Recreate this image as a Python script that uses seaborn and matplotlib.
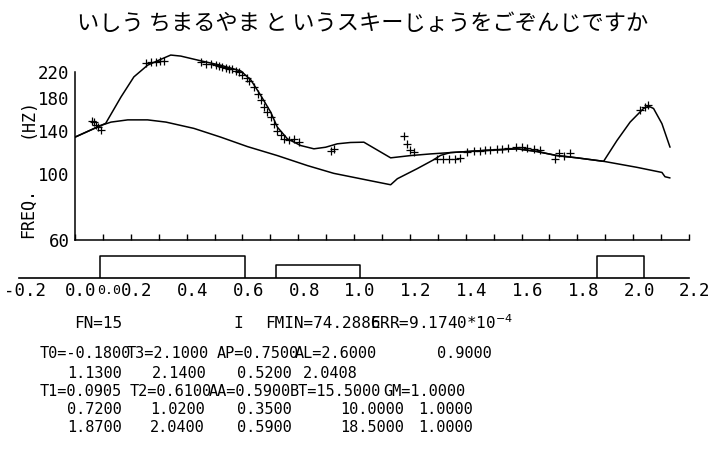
import matplotlib
matplotlib.use("Agg")
import matplotlib.pyplot as plt
import seaborn as sns
import pandas as pd
from matplotlib import font_manager as fm
from matplotlib.ticker import FixedLocator, NullLocator
from matplotlib.transforms import ScaledTranslation, blended_transform_factory

# ---------------- data ----------------
model_t = [0.00, 0.093, 0.110, 0.165, 0.211, 0.260, 0.308, 0.343, 0.379, 0.451,
           0.522, 0.594, 0.630, 0.665, 0.701, 0.725, 0.761, 0.809, 0.856, 0.898,
           0.940, 0.987, 1.035, 1.131, 1.202, 1.274, 1.345, 1.464, 1.584, 1.655,
           1.727, 1.799, 1.894, 1.942, 1.989, 2.037, 2.055, 2.073, 2.103, 2.132]
model_f = [133, 145.6, 148, 181.6, 212, 232, 243, 251, 249, 240,
           232, 222, 207, 184, 161.5, 143.7, 131.3, 124.6, 121.5, 123,
           126.3, 127.6, 127.9, 113.3, 115.3, 116.8, 118, 119.9, 121.5, 119,
           115.3, 113.3, 110.3, 129.6, 149.4, 166, 169, 166, 147.6, 123]

base_t = [0.00, 0.093, 0.129, 0.189, 0.260, 0.326, 0.426, 0.522, 0.618, 0.725,
          0.833, 0.927, 1.023, 1.059, 1.131, 1.155, 1.226, 1.284, 1.310, 1.345,
          1.464, 1.584, 1.655, 1.727, 1.799, 1.894, 2.013, 2.103, 2.114, 2.132]
base_f = [133, 145.6, 149.4, 152, 152, 149.4, 142.3, 133, 123.6, 115.3,
          106.7, 100.5, 96.4, 94.9, 92, 96.4, 104.2, 111.5, 115.5, 118,
          119.9, 121.5, 119, 115.3, 113.3, 110.3, 105.3, 101.2, 97.9, 97]

meas_t = [0.062, 0.069, 0.075, 0.082, 0.093,
          0.254, 0.272, 0.290, 0.305, 0.320,
          0.451, 0.469, 0.487, 0.504, 0.516, 0.528, 0.540, 0.552, 0.564, 0.576,
          0.588, 0.600, 0.618, 0.624, 0.642, 0.654, 0.665, 0.677, 0.689, 0.701,
          0.713, 0.725, 0.737, 0.749, 0.767, 0.785, 0.803, 0.916, 0.927,
          1.178, 1.190, 1.202, 1.214, 1.298, 1.320, 1.340, 1.360, 1.380, 1.405,
          1.430, 1.450, 1.470, 1.488, 1.512, 1.530, 1.550, 1.580, 1.600, 1.620,
          1.645, 1.667, 1.721, 1.733, 1.751, 1.775,
          2.025, 2.043, 2.053]
meas_f = [151, 149.4, 145.6, 143.5, 141,
          236, 237.6, 238, 239, 240,
          238, 235, 233.4, 232, 230.9, 229, 227.4, 225.6, 224.7, 222.3,
          219.4, 215, 209.6, 206, 196.2, 186.4, 176.9, 168, 161.5, 155.3,
          147.6, 140, 134.7, 131.3, 129.6, 131.3, 127.9, 119.9, 121.5,
          134, 126.3, 120.5, 118.3, 112.5, 112, 112, 112.4, 112.8, 118.5,
          119.5, 119.9, 120.3, 120.5, 121, 121.5, 122, 123, 123, 122,
          121, 120.5, 112.4, 117.4, 115.3, 117.4,
          163.7, 168, 170]

acc_on = [0.0905, 0.72, 1.87]
acc_off = [0.61, 1.02, 2.04]
acc_amp = [0.59, 0.35, 0.59]

freq_ticks = [60, 80, 100, 120, 140, 160, 180, 200, 220]
freq_labels = ["60", "", "100", "", "140", "", "180", "", "220"]
time_minor = [0.1 * i for i in range(0, 23)]
time_major = [-0.2, 0.0, 0.2, 0.4, 0.6, 0.8, 1.0, 1.2, 1.4, 1.6, 1.8, 2.0, 2.2]
time_labels = ["-0.2", "0.0", "0.2", "0.4", "0.6", "0.8", "1.0", "1.2",
               "1.4", "1.6", "1.8", "2.0", "2.2"]

title_text = "いしう ちまるやま と いうスキーじょうをごぞんじですか"
info_fn = "FN=15"
info_i = "I"
info_fmin = "FMIN=74.2886"
info_err = "ERR=9.1740*10$^{-4}$"

row1 = [(40, "T0=-0.1800"), (127, "T3=2.1000"), (217, "AP=0.7500"), (295, "AL=2.6000"), (437, "0.9000")]
row2 = [(67, "1.1300"), (152, "2.1400"), (237, "0.5200"), (303, "2.0408")]
row3 = [(40, "T1=0.0905"), (130, "T2=0.6100"), (209, "AA=0.5900"), (290, "BT=15.5000"), (383, "GM=1.0000")]
row4 = [(67, "0.7200"), (150, "1.0200"), (237, "0.3500"), (340, "10.0000"), (418, "1.0000")]
row5 = [(67, "1.8700"), (150, "2.0400"), (237, "0.5900"), (340, "18.5000"), (418, "1.0000")]
rows_y = [354, 373, 391, 409, 428]

# ---------------- style ----------------
sns.set_theme(style="white")
plt.rcParams["font.family"] = ["DejaVu Sans Mono", "DejaVu Sans"]
plt.rcParams["axes.grid"] = False
names = {f.name for f in fm.fontManager.ttflist}
narrow = "Liberation Sans Narrow" if "Liberation Sans Narrow" in names else "DejaVu Sans Mono"

W, H = 711, 457
fig = plt.figure(figsize=(7.11, 4.57), dpi=100)
fig.patch.set_facecolor("white")


def fx(px):
    return px / W


def fy(py):
    return 1 - py / H


LW = 1.1
# ---------------- upper F0 plot ----------------
ax = fig.add_axes([fx(75), fy(240), (689 - 75) / W, (240 - 50.5) / H])
ax.set_facecolor("white")
ax.set_yscale("log")

df_model = pd.DataFrame({"t": model_t, "f": model_f})
df_base = pd.DataFrame({"t": base_t, "f": base_f})
df_meas = pd.DataFrame({"t": meas_t, "f": meas_f})
sns.lineplot(data=df_base, x="t", y="f", ax=ax, color="black", lw=LW,
             sort=False, estimator=None)
sns.lineplot(data=df_model, x="t", y="f", ax=ax, color="black", lw=LW,
             sort=False, estimator=None)
sns.scatterplot(data=df_meas, x="t", y="f", ax=ax, marker="+", s=40,
                color="black", linewidth=0.9)

ax.set_xlim(0, 2.2)
ax.set_ylim(60, 260)
for s in ["top", "right"]:
    ax.spines[s].set_visible(False)
for s in ["left", "bottom"]:
    ax.spines[s].set_color("black")
    ax.spines[s].set_linewidth(1.1)
ax.spines["left"].set_bounds(60, 220)
ax.spines["bottom"].set_bounds(0, 2.2)
ax.yaxis.set_major_locator(FixedLocator(freq_ticks))
ax.yaxis.set_minor_locator(NullLocator())
ax.set_yticklabels(freq_labels)
ax.xaxis.set_major_locator(FixedLocator(time_minor))
ax.xaxis.set_minor_locator(NullLocator())
ax.set_xticklabels([])
ax.tick_params(axis="both", which="both", direction="in", length=4, width=1,
               color="black", labelcolor="black")
ax.tick_params(axis="y", labelsize=12.5, pad=4)
ax.tick_params(axis="x", bottom=True, labelbottom=False)
ax.set_xlabel("")
ax.set_ylabel("")

fig.text(fx(28), fy(118), "(HZ)", rotation=90, ha="center", va="center",
         fontsize=12, family=narrow, color="black")
fig.text(fx(28), fy(213), "FREQ.", rotation=90, ha="center", va="center",
         fontsize=12, family=narrow, color="black")

# ---------------- accent command plot ----------------
ax2 = fig.add_axes([fx(19.2), fy(278), (689 - 19.2) / W, 28 / H])
ax2.set_facecolor("none")
for on, off, amp in zip(acc_on, acc_off, acc_amp):
    d = pd.DataFrame({"t": [on, on, off, off], "a": [0, amp, amp, 0]})
    sns.lineplot(data=d, x="t", y="a", ax=ax2, color="black", lw=LW,
                 sort=False, estimator=None)
ax2.set_xlim(-0.2, 2.2)
ax2.set_ylim(0, 0.75)
for s in ["top", "right", "left"]:
    ax2.spines[s].set_visible(False)
ax2.spines["bottom"].set_color("black")
ax2.spines["bottom"].set_linewidth(1.2)
ax2.set_yticks([])
ax2.xaxis.set_major_locator(FixedLocator(time_major))
ax2.xaxis.set_minor_locator(FixedLocator([-0.1] + [0.1 * i for i in range(1, 22, 2)]))
ax2.set_xticklabels(time_labels)
ax2.tick_params(axis="x", which="both", direction="in", length=4, width=1,
                color="black", labelcolor="black", labelsize=12.5, pad=3)
ax2.set_xlabel("")
ax2.set_ylabel("")
off = ScaledTranslation(6 / 100, 0, fig.dpi_scale_trans)
for lbl in ax2.get_xticklabels():
    lbl.set_transform(lbl.get_transform() + off)
trans = blended_transform_factory(ax2.transData, ax2.transAxes)
ax2.text(0.1, -0.2, "0.0", transform=trans + off, ha="center", va="top",
         fontsize=9.5, color="black")

# ---------------- texts ----------------
fig.text(fx(363), fy(23), title_text, ha="center", va="center", fontsize=16,
         family=["Noto Sans CJK JP", "DejaVu Sans"], color="black")

fig.text(fx(74), fy(324), info_fn, ha="left", va="center", fontsize=11.5, color="black")
fig.text(fx(233), fy(323), info_i, ha="left", va="center", fontsize=11.5, color="black")
fig.text(fx(265), fy(323), info_fmin, ha="left", va="center", fontsize=11.5, color="black")
fig.text(fx(370), fy(323), info_err, ha="left", va="center", fontsize=11.5, color="black")

for y, row in zip(rows_y, [row1, row2, row3, row4, row5]):
    for x, s in row:
        fig.text(fx(x), fy(y), s, ha="left", va="center", fontsize=11, color="black")

fig.savefig("out.png", dpi=100, facecolor="white")
